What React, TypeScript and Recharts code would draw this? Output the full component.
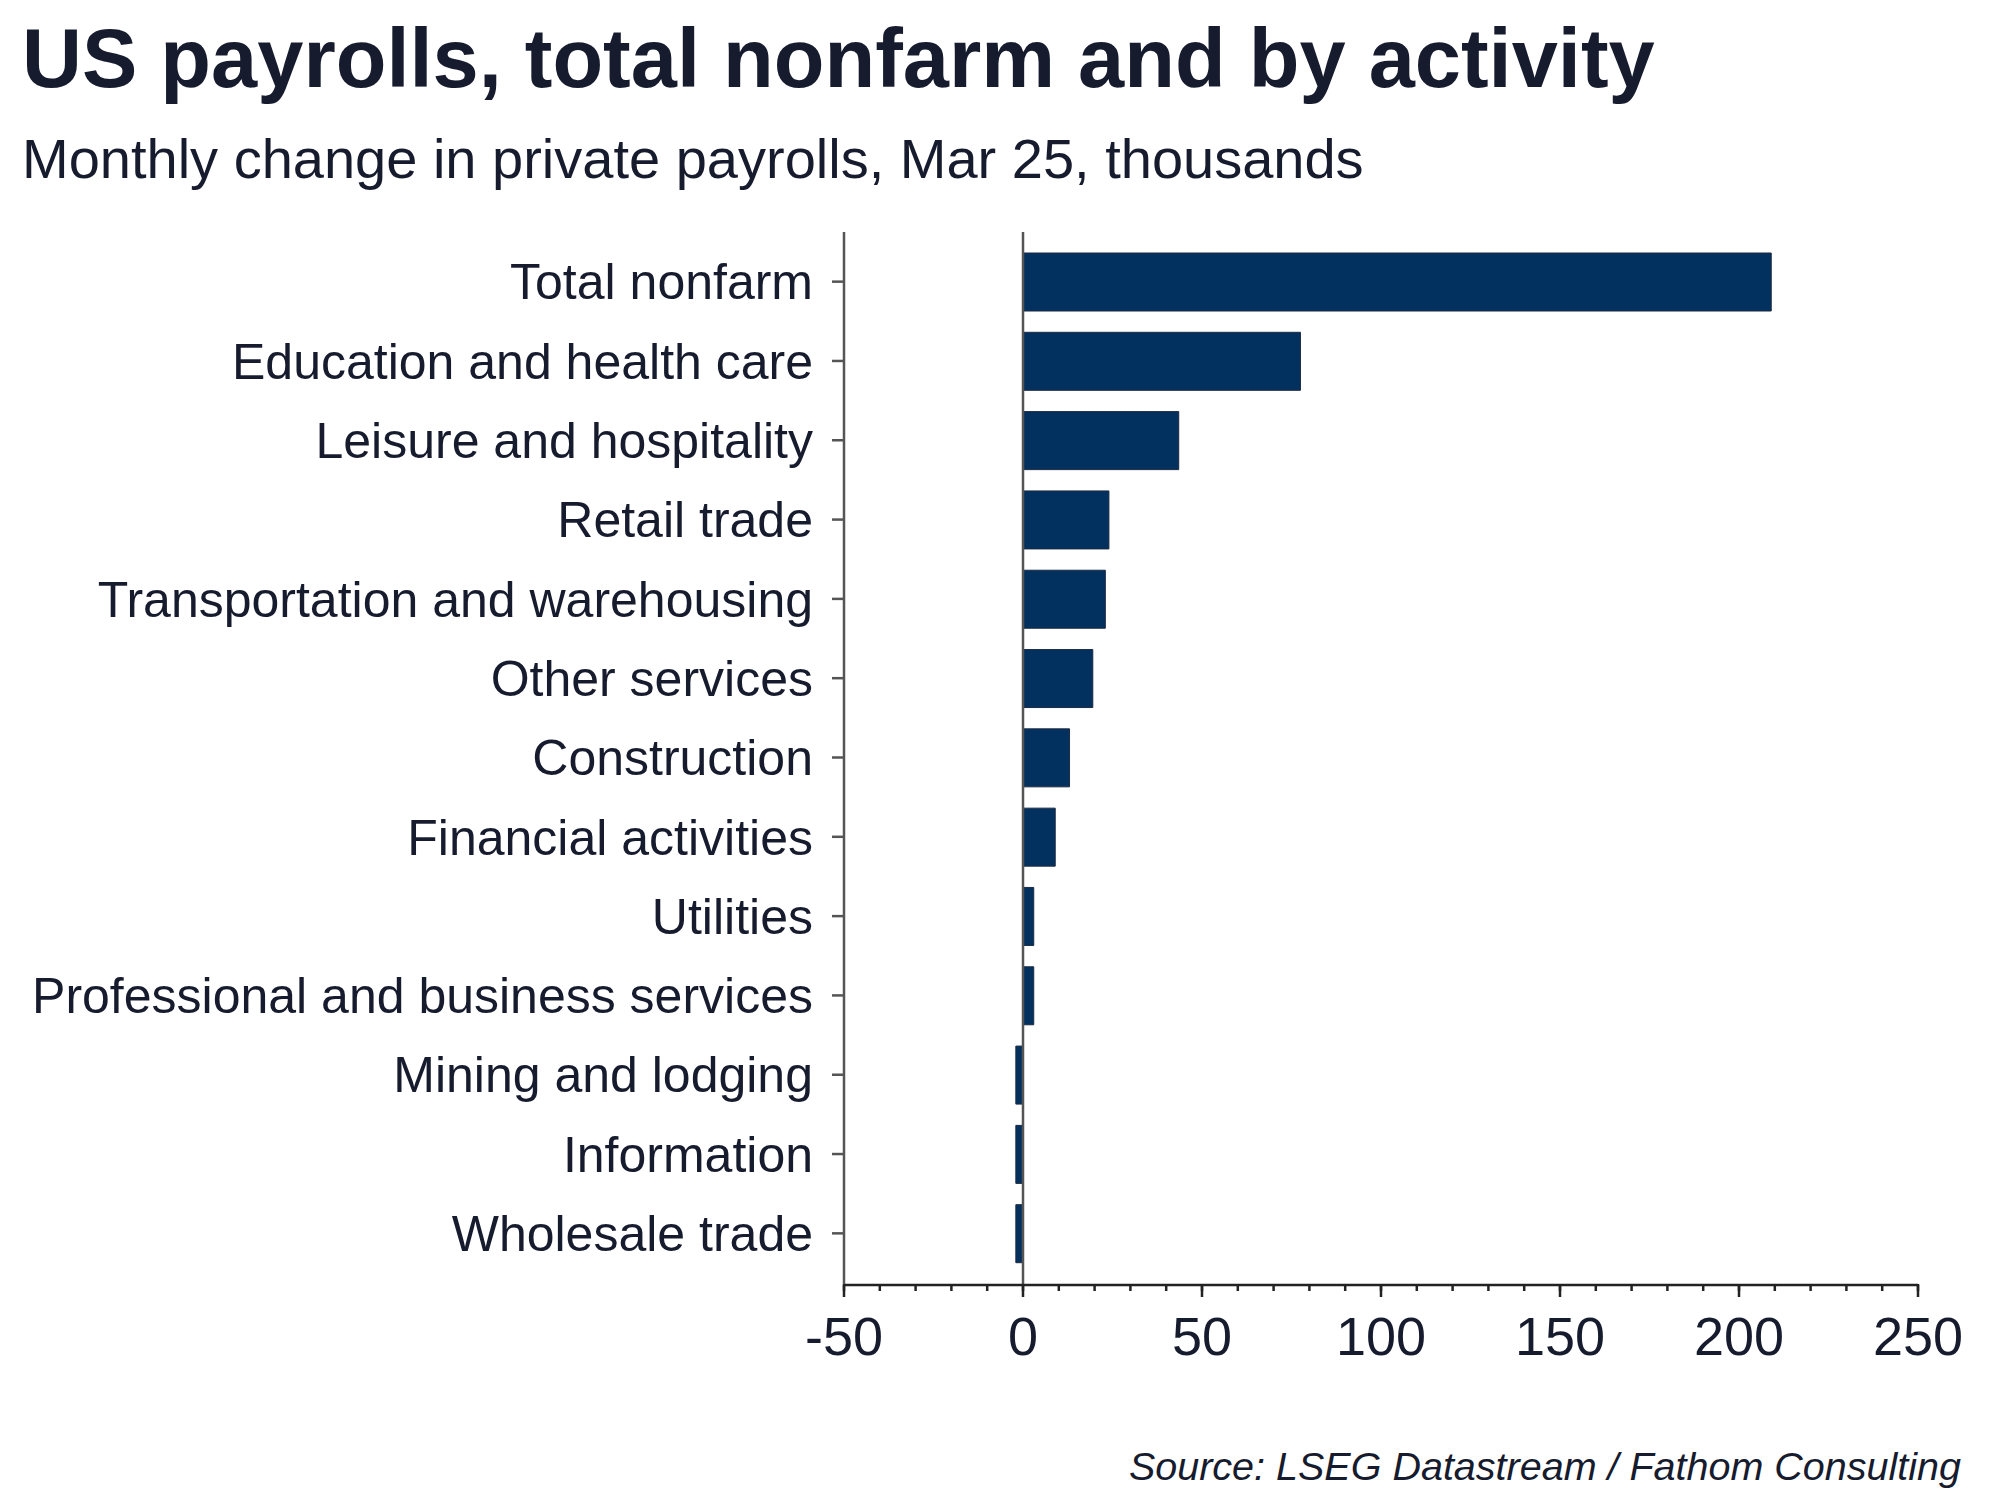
import React from 'react';
import { BarChart, Bar, XAxis, YAxis, ReferenceLine } from 'recharts';

const categories = [
  'Total nonfarm',
  'Education and health care',
  'Leisure and hospitality',
  'Retail trade',
  'Transportation and warehousing',
  'Other services',
  'Construction',
  'Financial activities',
  'Utilities',
  'Professional and business services',
  'Mining and lodging',
  'Information',
  'Wholesale trade',
];
const values = [209, 77.5, 43.5, 24, 23, 19.5, 13, 9, 3, 3, -2, -2, -2];
const majorTicks = [-50, 0, 50, 100, 150, 200, 250];
const minorTicks = [-50, -40, -30, -20, -10, 0, 10, 20, 30, 40, 50, 60, 70, 80, 90, 100, 110, 120, 130, 140, 150, 160, 170, 180, 190, 200, 210, 220, 230, 240, 250];

const title = 'US payrolls, total nonfarm and by activity';
const subtitle = 'Monthly change in private payrolls, Mar 25, thousands';
const source = 'Source: LSEG Datastream / Fathom Consulting';

const data = categories.map((c, i) => ({ name: c, value: values[i] }));

const FONT = '"Liberation Sans", Arial, sans-serif';
const TEXT = '#161b2e';
const AXIS = '#555555';
const BAR = '#02315f';

const EmptyTick = () => <g />;

export default function App() {
  return (
    <div style={{ position: 'absolute', left: 0, top: 0, width: 2000, height: 1500, background: '#fff' }}>
      <svg width={2000} height={1500} style={{ position: 'absolute', left: 0, top: 0 }}>
        <text x={22} y={87} fontFamily={FONT} fontWeight="bold" fontSize={83} fill={TEXT}>{title}</text>
        <text x={22} y={178} fontFamily={FONT} fontSize={56} fill={TEXT}>{subtitle}</text>
        <text x={1961} y={1480} fontFamily={FONT} fontStyle="italic" fontSize={39.5} fill={TEXT} textAnchor="end">{source}</text>
      </svg>
      <div style={{ position: 'absolute', left: 0, top: 0 }}>
        <BarChart
          width={2000}
          height={1500}
          data={data}
          layout="vertical"
          barSize={58}
          margin={{ top: 232, right: 82, left: 0, bottom: 136 }}
        >
          <XAxis
            type="number"
            xAxisId={0}
            domain={[-50, 250]}
            ticks={minorTicks}
            allowDataOverflow
            axisLine={false}
            tickLine={{ stroke: '#222', strokeWidth: 2.5 }}
            tickSize={7}
            tick={EmptyTick}
            height={1}
          />
          <XAxis
            type="number"
            xAxisId={1}
            domain={[-50, 250]}
            ticks={majorTicks}
            allowDataOverflow
            axisLine={{ stroke: '#222', strokeWidth: 2.5 }}
            tickLine={{ stroke: '#222', strokeWidth: 2.5 }}
            tickSize={12}
            tickMargin={20}
            height={79}
            tick={{ fontFamily: FONT, fontSize: 54, fill: TEXT }}
          />
          <YAxis
            type="category"
            dataKey="name"
            width={844}
            padding={{ top: 10, bottom: 11 }}
            axisLine={{ stroke: AXIS, strokeWidth: 2.5 }}
            tickLine={{ stroke: AXIS, strokeWidth: 2.5 }}
            tickSize={12}
            tickMargin={19}
            interval={0}
            tick={{ fontFamily: FONT, fontSize: 50, fill: TEXT }}
          />
          <ReferenceLine xAxisId={1} x={0} stroke={AXIS} strokeWidth={2.5} />
          <Bar xAxisId={1} dataKey="value" fill={BAR} stroke="#1d2a40" strokeWidth={1} isAnimationActive={false} />
        </BarChart>
      </div>
    </div>
  );
}
